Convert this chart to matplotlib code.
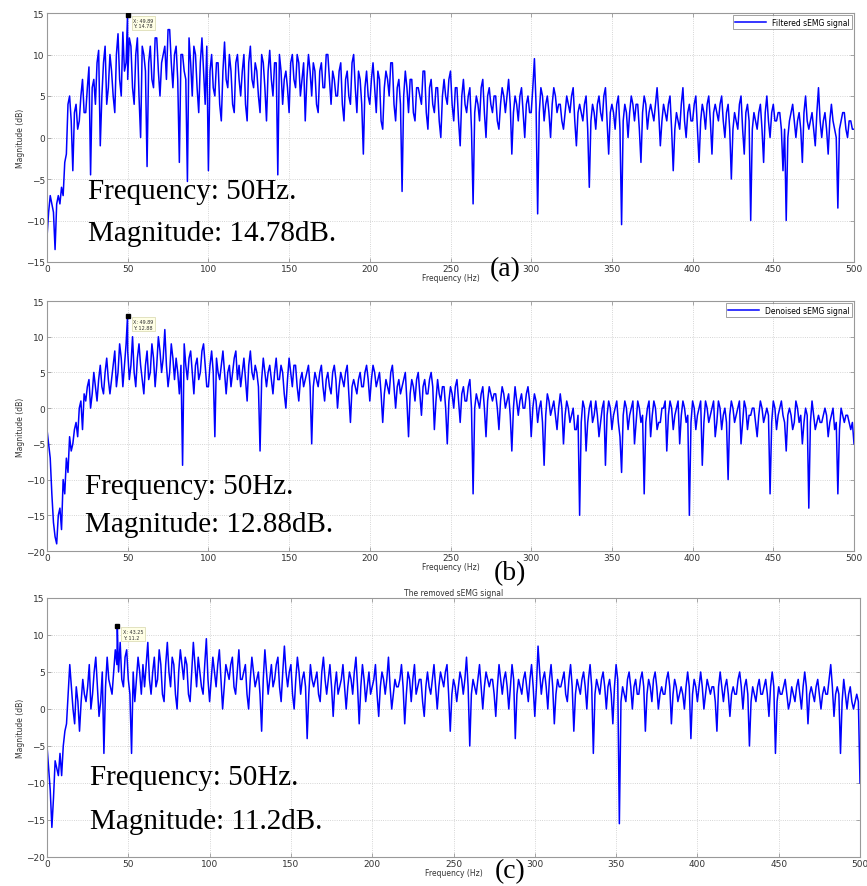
import numpy as np
import matplotlib
matplotlib.use("Agg")
import matplotlib.pyplot as plt

# Frequency grid (Hz) shared by the three spectra, 1 Hz bins
freq = np.arange(0, 501, 1)

# Magnitude spectrum of the filtered sEMG signal (dB), one row per 20 Hz
mag_filtered = [
    -12, -9, -7, -8, -9, -13.5, -8, -7, -8, -6, -7, -3, -2, 4, 5, 2, -4, 3, 4, 1,
    2, 5, 7, 3, 3, 6, 8.5, -4.5, 6, 7, 4, 9, 10.5, -1, 5, 9, 11, 4, 6, 10,
    8, 5, 3, 10, 12.5, 7, 5, 12.7, 8, 9, 7, 12, 11, 6, 4, 10, 12, 5, 0, 11,
    10, 8, -3.5, 9, 11, 7, 6, 12, 12, 8, 5, 9, 10, 11, 7, 13, 13, 9, 6, 10,
    11, 7, -3, 10, 10, 8, 7, -5.3, 12, 9, 5, 11, 10, 6, 3, 9, 12, 8, 4, 11,
    -4, 8, 10, 6, 5, 9, 9, 4, 2, 8, 11.5, 7, 6, 10, 8, 4, 3, 9, 10, 7,
    5, 8, 10, 4, 2, 9, 11, 7, 6, 9, 8, 5, 3, 10, 9, 6, 2, 8, 10.5, 7,
    5, 9, 9, -4.5, 10, 8, 4, 7, 8, 6, 3, 9, 10, 7, 6, 10, 9, 5, 7, 9,
    2, 7, 10, 8, 5, 9, 8, 4, 3, 8, 9, 6, 6, 10, 10, 7, 4, 8, 7, 5,
    5, 8, 9, 4, 2, 7, 8, 5, 4, 9, 10, 6, 3, 8, 7, 4, -2, 6, 8, 5,
    4, 7, 9, 6, 3, 8, 7, 2, 1, 6, 8, 7, 5, 9, 9, 4, 2, 6, 7, 4,
    -6.5, 5, 8, 6, 3, 7, 7, 3, 2, 6, 6, 5, 4, 8, 8, 3, 1, 6, 7, 4,
    3, 6, 6, 2, 0, 5, 7, 5, 4, 7, 8, 4, 2, 6, 6, 2, -1, 5, 7, 4,
    3, 5, 6, 1, -8, 3, 5, 4, 2, 6, 7, 3, 0, 5, 6, 4, 3, 5, 5, 2,
    1, 4, 6, 5, 3, 5, 7, 4, -2, 3, 5, 4, 2, 5, 6, 3, 0, 4, 5, 3,
    3, 6, 9.5, 4, -9.2, 3, 6, 5, 2, 4, 5, 3, 0, 4, 6, 5, 3, 4, 4, 2,
    1, 3, 5, 4, 3, 5, 6, 2, -1, 3, 4, 3, 2, 4, 5, 1, -6, 2, 4, 3,
    1, 4, 5, 3, 2, 5, 6, 2, -2, 3, 4, 3, 1, 4, 5, 1, -10.5, 2, 4, 3,
    0, 3, 5, 4, 2, 4, 4, 1, -3, 3, 5, 4, 1, 3, 4, 3, 2, 4, 6, 3,
    -1, 2, 4, 3, 2, 4, 5, 1, -4, 1, 3, 2, 1, 4, 6, 2, 0, 3, 4, 2,
    2, 4, 5, 1, -3, 2, 4, 3, 1, 4, 5, 2, -2, 3, 4, 3, 2, 4, 5, 2,
    0, 3, 4, 1, -5, 1, 3, 2, 1, 4, 5, 1, -2, 3, 4, 2, -10, 1, 3, 2,
    1, 3, 4, 1, -3, 3, 5, 2, 0, 3, 4, 2, 2, 3, 3, 1, -4, 1, -10, 0,
    2, 3, 4, 2, 0, 2, 3, 1, -3, 3, 5, 2, 1, 2, 3, 1, -1, 3, 6, 2,
    0, 2, 3, 1, -2, 2, 4, 2, 1, 0, -8.5, 1, 2, 3, 3, 1, 0, 2, 2, 1,
    1,
]

# Magnitude spectrum of the denoised sEMG signal (dB)
mag_denoised = [
    -3, -5, -7, -12, -16, -18, -19, -15, -14, -17, -10, -12, -7, -9, -4, -6, -5, -3, -2, -4,
    0, 1, -3, 2, 1, 3, 4, 0, 2, 5, 3, 1, 4, 6, 3, 2, 5, 7, 4, 2,
    4, 6, 8, 3, 5, 9, 7, 3, 6, 9, 8, 4, 6, 10, 5, 3, 7, 9, 6, 4,
    2, 6, 8, 4, 5, 9, 7, 3, 6, 10, 8, 5, 7, 11, 6, 3, 5, 9, 7, 4,
    7, 5, 2, 6, -8, 9, 6, 4, 7, 8, 5, 2, 6, 7, 4, 5, 8, 9, 6, 3,
    3, 6, 8, 5, -4, 7, 5, 4, 6, 8, 5, 2, 5, 6, 3, 5, 7, 8, 4, 6,
    3, 5, 7, 4, 1, 6, 8, 5, 4, 6, 5, 3, -6, 4, 7, 5, 3, 5, 6, 4,
    2, 5, 7, 4, 4, 6, 5, 2, 0, 4, 7, 5, 3, 6, 6, 3, 1, 4, 5, 3,
    4, 5, 6, 3, -5, 3, 5, 4, 3, 5, 6, 3, 1, 4, 5, 3, 2, 5, 6, 4,
    0, 3, 5, 4, 3, 5, 6, 2, -2, 3, 4, 3, 2, 4, 5, 3, 3, 5, 6, 4,
    1, 4, 6, 5, 3, 4, 5, 2, -2, 2, 4, 3, 2, 5, 6, 3, 0, 3, 4, 2,
    3, 4, 5, 1, -4, 2, 4, 3, 1, 4, 5, 2, -1, 3, 4, 2, 2, 4, 5, 3,
    -3, 1, 4, 2, 1, 3, 3, 0, -5, 1, 3, 2, 0, 3, 4, 1, -2, 2, 3, 1,
    1, 3, 4, 0, -12, 0, 2, 1, 0, 2, 3, 0, -4, 1, 3, 2, 1, 2, 2, 0,
    -3, 1, 3, 2, 0, 1, 2, -1, -6, 0, 3, 1, -1, 1, 2, 0, 0, 2, 3, 1,
    -4, 0, 2, 1, -2, 0, 1, -2, -8, -1, 2, 1, -1, 0, 1, -1, -3, 0, 2, 0,
    -5, -1, 1, 0, -2, -1, 0, -3, -3, -1, -15, -2, 1, 0, -6, -2, 0, 1, -2, -1,
    1, -1, -4, -2, 0, 1, -8, -1, 1, 0, -3, -1, 0, 1, -2, -4, -9, -1, 1, 0,
    -3, -1, 0, 1, -5, -2, 1, 0, -2, -1, -12, -2, 0, 1, -4, -1, 1, 0, -3, -2,
    -2, 0, 0, 1, -6, -1, 1, 0, -3, -1, 0, 1, -5, -1, 1, 0, -2, -1, -15, -2,
    1, 0, -3, -1, 0, 1, -8, -2, 1, 0, -2, -1, 0, 1, -4, -2, 1, 0, -3, -1,
    0, -2, -10, -1, 1, 0, -2, -1, 0, 1, -5, -2, 1, 0, -3, -1, -1, 0, 0, -2,
    -4, -1, 1, 0, -2, -1, 0, -1, -12, -2, 1, 0, -3, -1, 0, 1, -1, -2, -6, -1,
    0, -1, -3, -2, 1, 0, -2, -1, -5, -2, 0, -1, -14, -2, 1, -1, -3, -2, -1, -2,
    -2, -1, 0, -1, -4, -2, -1, 0, -3, -2, -12, -3, 0, -1, -2, -1, -1, -2, -3, -2,
    -5,
]

# Magnitude spectrum of the removed sEMG component (dB)
mag_removed = [
    -5, -8, -11, -16, -12, -7, -8, -9, -6, -9, -5, -3, -2, 2, 6, 3, 0, -2, 3, 1,
    -3, 1, 4, 2, 1, 3, 6, 0, 2, 5, 7, 3, -1, 1, 5, -6, 3, 7, 4, 3,
    2, 5, 8, 6, 5, 9, 4, 3, 7, 8, 4, 2, -6, 5, 1, 4, 7, 5, 2, 6,
    3, 6, 9, 4, 2, 5, 7, 3, 4, 8, 6, 2, 1, 6, 9, 5, 3, 7, 6, 2,
    0, 5, 8, 6, 4, 7, 6, 2, 1, 5, 9, 6, 3, 7, 5, 3, 2, 6, 9.5, 4,
    1, 4, 7, 5, 3, 6, 8, 4, 0, 3, 6, 5, 4, 6, 7, 3, 2, 5, 8, 4,
    4, 5, 6, 2, 0, 4, 7, 5, 3, 4, 5, 2, -3, 4, 8, 5, 2, 4, 6, 3,
    4, 6, 7, 3, 1, 5, 8.5, 5, 3, 5, 6, 2, 0, 4, 7, 5, 2, 4, 5, 3,
    -4, 2, 6, 4, 3, 4, 5, 2, 1, 5, 7, 4, 2, 4, 6, 3, -1, 3, 5, 2,
    3, 4, 6, 3, 0, 3, 5, 4, 2, 5, 7, 3, -2, 3, 6, 4, 1, 3, 5, 2,
    3, 4, 6, 2, -1, 3, 5, 4, 2, 4, 7, 3, 0, 2, 4, 3, 3, 4, 6, 3,
    -2, 2, 5, 4, 1, 4, 6, 2, 3, 4, 4, 1, -1, 3, 5, 3, 2, 4, 6, 3,
    0, 3, 5, 4, 3, 5, 6, 2, -3, 2, 4, 3, 1, 3, 5, 4, 2, 4, 7, 3,
    -5, 2, 4, 3, 2, 4, 6, 3, 0, 3, 5, 4, 3, 4, 4, 2, -1, 3, 6, 4,
    2, 4, 5, 3, 0, 3, 6, 4, -4, 2, 4, 3, 2, 4, 5, 3, 1, 4, 6, 3,
    -1, 3, 8.5, 5, 2, 4, 5, 3, 0, 4, 6, 3, -2, 2, 4, 3, 3, 4, 5, 2,
    1, 4, 6, 3, -3, 2, 4, 3, 2, 4, 5, 3, 0, 4, 6, 3, -6, 2, 4, 3,
    2, 4, 5, 3, 0, 3, 4, 2, -2, 3, 6, 4, -15.5, 1, 3, 2, 1, 4, 5, 3,
    0, 3, 4, 2, 2, 4, 5, 3, -3, 2, 4, 3, 1, 4, 5, 3, 0, 2, 3, 2,
    2, 4, 5, 3, -2, 2, 4, 3, 1, 2, 3, 2, 0, 3, 5, 3, -4, 2, 4, 3,
    1, 3, 5, 3, 0, 2, 4, 3, 2, 3, 3, 1, -3, 3, 5, 3, 1, 3, 4, 2,
    -1, 2, 3, 2, 2, 4, 5, 3, 0, 3, 4, 2, -5, 1, 3, 2, 1, 3, 4, 2,
    2, 3, 4, 2, -1, 3, 5, 3, -6, 1, 3, 2, 2, 3, 4, 2, 0, 1, 3, 2,
    1, 3, 4, 2, 0, 3, 5, 3, -2, 2, 3, 2, 1, 3, 4, 2, 0, 2, 3, 2,
    2, 4, 6, 3, -1, 2, 3, 2, -6, 1, 4, 2, 0, 2, 3, 1, 0, 1, 2, 1,
    -10,
]

# Data-tip peaks (frequency Hz, magnitude dB)
peak_freqs = [49.89, 49.89, 43.25]
peak_mags = [14.78, 12.88, 11.2]

series_names = ["Filtered sEMG signal", "Denoised sEMG signal", "The removed sEMG signal"]
panel_tags = ["(a)", "(b)", "(c)"]
note_freq = ["Frequency: 50Hz.", "Frequency: 50Hz.", "Frequency: 50Hz."]
note_mag = ["Magnitude: 14.78dB.", "Magnitude: 12.88dB.", "Magnitude: 11.2dB."]
y_limits = [(-15, 15), (-20, 15), (-20, 15)]

W, H = 867, 887
fig = plt.figure(figsize=(W / 100, H / 100), dpi=100)
fig.patch.set_facecolor("white")

def frac_box(left, top, right, bottom):
    return [left / W, 1 - bottom / H, (right - left) / W, (bottom - top) / H]

boxes = [frac_box(47, 14, 854, 263), frac_box(47, 302, 854, 552), frac_box(47, 599, 860, 858)]
tag_pos = [(505, 270), (510, 574), (510, 872)]
note_pos = [(88, 192, 234), (85, 487, 525), (90, 778, 822)]

all_mags = [mag_filtered, mag_denoised, mag_removed]

for i in range(3):
    ax = fig.add_axes(boxes[i])
    m = np.asarray(all_mags[i], dtype=float)
    f = np.asarray(freq[:len(m)], dtype=float)
    k = np.searchsorted(f, peak_freqs[i])
    f = np.insert(f, k, peak_freqs[i])
    m = np.insert(m, k, peak_mags[i])
    ax.plot(f, m, color="#0000ff", lw=1.1, label=series_names[i])

    ax.set_xlim(0, 500)
    ax.set_ylim(*y_limits[i])
    ax.set_xticks(np.arange(0, 501, 50))
    ax.set_yticks(np.arange(y_limits[i][0], y_limits[i][1] + 1, 5))
    ax.grid(True, color="#c8c8c8", ls=":", lw=0.6)
    ax.tick_params(direction="in", length=3, width=0.5, colors="#888888",
                   labelcolor="#333333", labelsize=6.5, pad=1.5, top=True, right=True)
    for s in ax.spines.values():
        s.set_color("#999999")
        s.set_linewidth(0.8)
    ax.set_xlabel("Frequency (Hz)", fontsize=5.5, color="#333333", labelpad=0)
    ax.set_ylabel("Magnitude (dB)", fontsize=5.5, color="#333333", labelpad=1)

    if i < 2:
        leg = ax.legend(loc="upper right", fontsize=5.5, frameon=True, fancybox=False,
                        borderpad=0.3, handlelength=4, borderaxespad=0.3)
        leg.get_frame().set_edgecolor("#777777")
        leg.get_frame().set_linewidth(0.6)
    else:
        ax.set_title(series_names[i], fontsize=5.5, color="#333333", pad=2)

    # data tip at the peak
    ax.plot([peak_freqs[i]], [peak_mags[i]], marker="s", ms=3, color="black", zorder=5)
    ax.annotate(f"X: {peak_freqs[i]:.2f}\nY: {peak_mags[i]:g}",
                xy=(peak_freqs[i], peak_mags[i]), xytext=(4, -2),
                textcoords="offset points", ha="left", va="top",
                fontsize=3.5, color="#333333", zorder=6,
                bbox=dict(boxstyle="square,pad=0.3", fc="#ffffe6", ec="#cccc99", lw=0.4))

    tx, ty = tag_pos[i]
    fig.text(tx / W, 1 - ty / H, panel_tags[i], fontsize=20, family="Liberation Serif",
             ha="center", va="center")
    nx, ny1, ny2 = note_pos[i]
    fig.text(nx / W, 1 - ny1 / H, note_freq[i], fontsize=21, family="Liberation Serif",
             ha="left", va="center")
    fig.text(nx / W, 1 - ny2 / H, note_mag[i], fontsize=21, family="Liberation Serif",
             ha="left", va="center")

fig.savefig("out.png", dpi=100, facecolor="white")
